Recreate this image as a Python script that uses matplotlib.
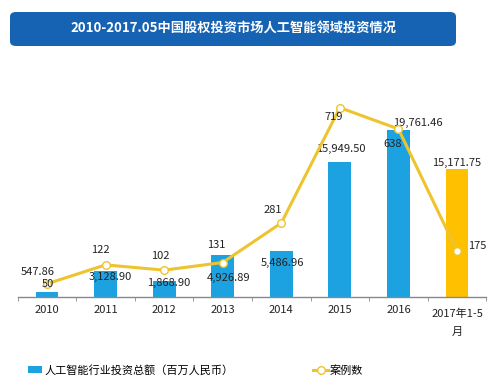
import numpy as np
import matplotlib
matplotlib.use("Agg")
import matplotlib.pyplot as plt
from matplotlib.patches import FancyBboxPatch
from matplotlib.lines import Line2D
from matplotlib.patches import Patch

plt.rcParams["font.family"] = ["Noto Sans CJK SC", "DejaVu Sans"]

# ── Data ──────────────────────────────────────────────────────────────────────
CATEGORIES = ["2010", "2011", "2012", "2013", "2014", "2015", "2016", "2017年1-5\n月"]
AMOUNT     = [547.86, 3128.90, 1868.90, 4926.89, 5486.96, 15949.50, 19761.46, 15171.75]
CASES      = [50, 122, 102, 131, 281, 719, 638, 175]

TITLE      = "2010-2017.05中国股权投资市场人工智能领域投资情况"
LBL_AMOUNT = "人工智能行业投资总额（百万人民币）"
LBL_CASES  = "案例数"

# label offsets in pixels (dx, dy) relative to bar top / line point
AMOUNT_OFF = [(-9, 20), (5, -6), (5, -2), (6, -23), (1, -12), (1, 13), (19, 7), (0, 6)]
CASES_OFF  = [(1, 0), (-5, 15), (-4, 14), (-6, 18), (-8, 13), (-6, -9), (-6, -15), (20, 5)]

BLUE   = "#1ca2e0"
ORANGE = "#ffc000"
LINE_C = "#eec42e"

fig = plt.figure(figsize=(5.0, 3.87), dpi=100)

# title banner
banner = FancyBboxPatch((10 / 500, 1 - 46 / 387), 446 / 500, 34 / 387,
                        boxstyle="round,pad=0,rounding_size=0.012",
                        transform=fig.transFigure, facecolor="#1763b3",
                        edgecolor="none")
fig.patches.append(banner)
fig.text(233 / 500, 1 - 29 / 387, TITLE, color="white", fontsize=9.5,
         fontweight="bold", ha="center", va="center")

ax = fig.add_axes([17.7 / 500, 1 - 297 / 387, 468.6 / 500, 237 / 387])
x = np.arange(len(CATEGORIES))
colors = [BLUE] * (len(CATEGORIES) - 1) + [ORANGE]
bars = ax.bar(x, AMOUNT, 0.39, color=colors, zorder=2)
ax.set_xlim(-0.5, len(CATEGORIES) - 0.5)
ax.set_ylim(0, 28000)

ax2 = ax.twinx()
ax2.plot(x, CASES, color=LINE_C, lw=2.2, marker="o", ms=5.5,
         mfc="white", mec=LINE_C, mew=1.0, zorder=3)
ax2.set_ylim(0, 900)

for a in (ax, ax2):
    for s in ["top", "right", "left"]:
        a.spines[s].set_visible(False)
    a.set_yticks([])
ax2.spines["bottom"].set_visible(False)
ax.spines["bottom"].set_color("#888888")
ax.spines["bottom"].set_linewidth(1.0)

ax.set_xticks(x)
ax.set_xticklabels(CATEGORIES, fontsize=8, color="#222222", linespacing=1.9)
ax.tick_params(axis="x", which="major", length=0, pad=6)
ax.set_xticks(np.arange(-0.5, len(CATEGORIES)), minor=True)
ax.tick_params(axis="x", which="minor", length=3, direction="out", color="#888888")
ax.get_xticklabels()[-1].set_y(-0.015)

for i, (v, off) in enumerate(zip(AMOUNT, AMOUNT_OFF)):
    ax.annotate(f"{v:,.2f}", xy=(i, v), xytext=off, textcoords="offset pixels",
                ha="center", va="center", fontsize=8, color="#222222", zorder=4)
for i, (v, off) in enumerate(zip(CASES, CASES_OFF)):
    ax2.annotate(f"{v}", xy=(i, v), xytext=off, textcoords="offset pixels",
                 ha="center", va="center", fontsize=8, color="#222222", zorder=4)

handles = [Patch(facecolor=BLUE, edgecolor="none"),
           Line2D([0], [0], color=LINE_C, lw=2.2, marker="o", ms=5.5,
                  mfc="white", mec=LINE_C)]
fig.legend(handles, [LBL_AMOUNT, LBL_CASES], loc="center left",
           bbox_to_anchor=(0.035, 1 - 370 / 387), ncol=2, frameon=False,
           fontsize=8, handlelength=1.3, handletextpad=0.2, columnspacing=7.2)

fig.savefig("out.png", dpi=100)
